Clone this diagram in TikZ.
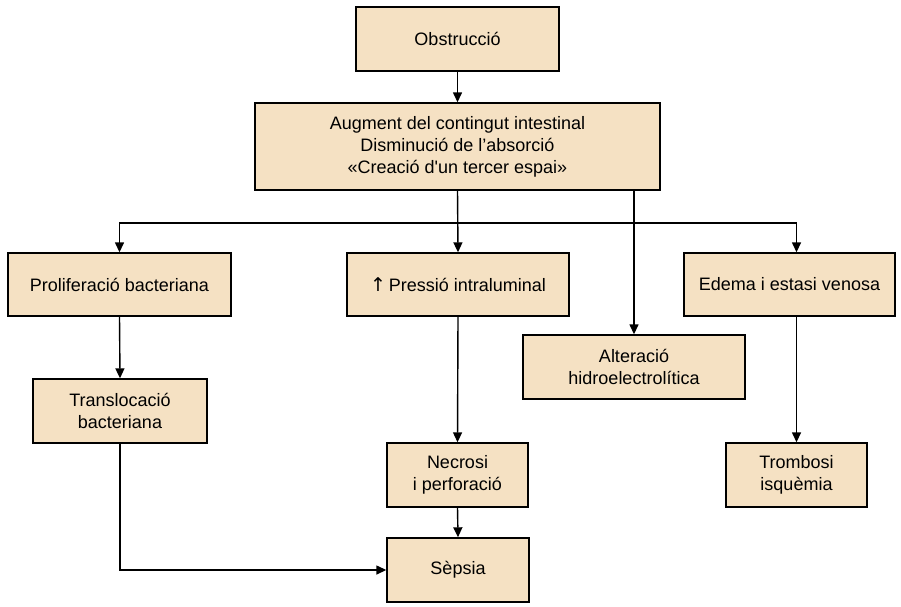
\documentclass[tikz,border=0pt]{standalone}
\usepackage{fontspec}
\setmainfont{Liberation Sans}
\usetikzlibrary{arrows.meta}
\definecolor{boxfill}{RGB}{245,225,195}
\begin{document}
\begin{tikzpicture}[x=1pt,y=-1pt,
  box/.style={draw=black,fill=boxfill,line width=1.4pt,align=center,inner sep=0pt,
    font=\fontsize{18}{22}\selectfont},
  conn/.style={draw=black,line width=1.4pt},
  arr/.style={conn,-{Triangle[length=10pt,width=9pt]}}]
\useasboundingbox (0,0) rectangle (901,606);
\node[box,minimum width=203pt,minimum height=64pt] (obs) at (457.5,39) {Obstrucció};
\node[box,minimum width=405pt,minimum height=87pt] (big) at (457.5,146.5) {Augment del contingut intestinal\\Disminució de l’absorció\\«Creació d\textquotesingle un tercer espai»};
\node[box,minimum width=223pt,minimum height=63pt] (prol) at (119.5,284.5) {Proliferació bacteriana};
\node[box,minimum width=222pt,minimum height=63pt] (pres) at (458,284.5) {{\fontspec{DejaVu Sans}\fontsize{19}{22}\selectfont ↑}\,Pressió intraluminal};
\node[box,minimum width=211pt,minimum height=63pt] (edema) at (789.5,284.5) {Edema i estasi venosa};
\node[box,minimum width=222pt,minimum height=64pt] (alt) at (634,367) {Alteració\\hidroelectrolítica};
\node[box,minimum width=174pt,minimum height=64pt] (trans) at (120,411) {Translocació\\bacteriana};
\node[box,minimum width=141pt,minimum height=64pt] (nec) at (457.5,475) {Necrosi\\i perforació};
\node[box,minimum width=142pt,minimum height=64pt] (sep) at (458,570) {Sèpsia};
\node[box,minimum width=141pt,minimum height=64pt] (tromb) at (796.5,475) {Trombosi\\isquèmia};
\coordinate (bus) at (458,223);
\draw[arr] (obs.south) -- (big.north);
\draw[arr] (big.south) -- (pres.north);
\draw[arr] (bus) -| (prol.north);
\draw[arr] (bus) -| (tromb.north |- edema.north);
\draw[arr] (alt.north |- big.south) -- (alt.north);
\draw[arr] (prol.south) -- (trans.north);
\draw[arr] (pres.south) -- (nec.north);
\draw[arr] (nec.south) -- (sep.north);
\draw[arr] (tromb.north |- edema.south) -- (tromb.north);
\draw[arr] (trans.south) |- (sep.west);
\end{tikzpicture}
\end{document}
